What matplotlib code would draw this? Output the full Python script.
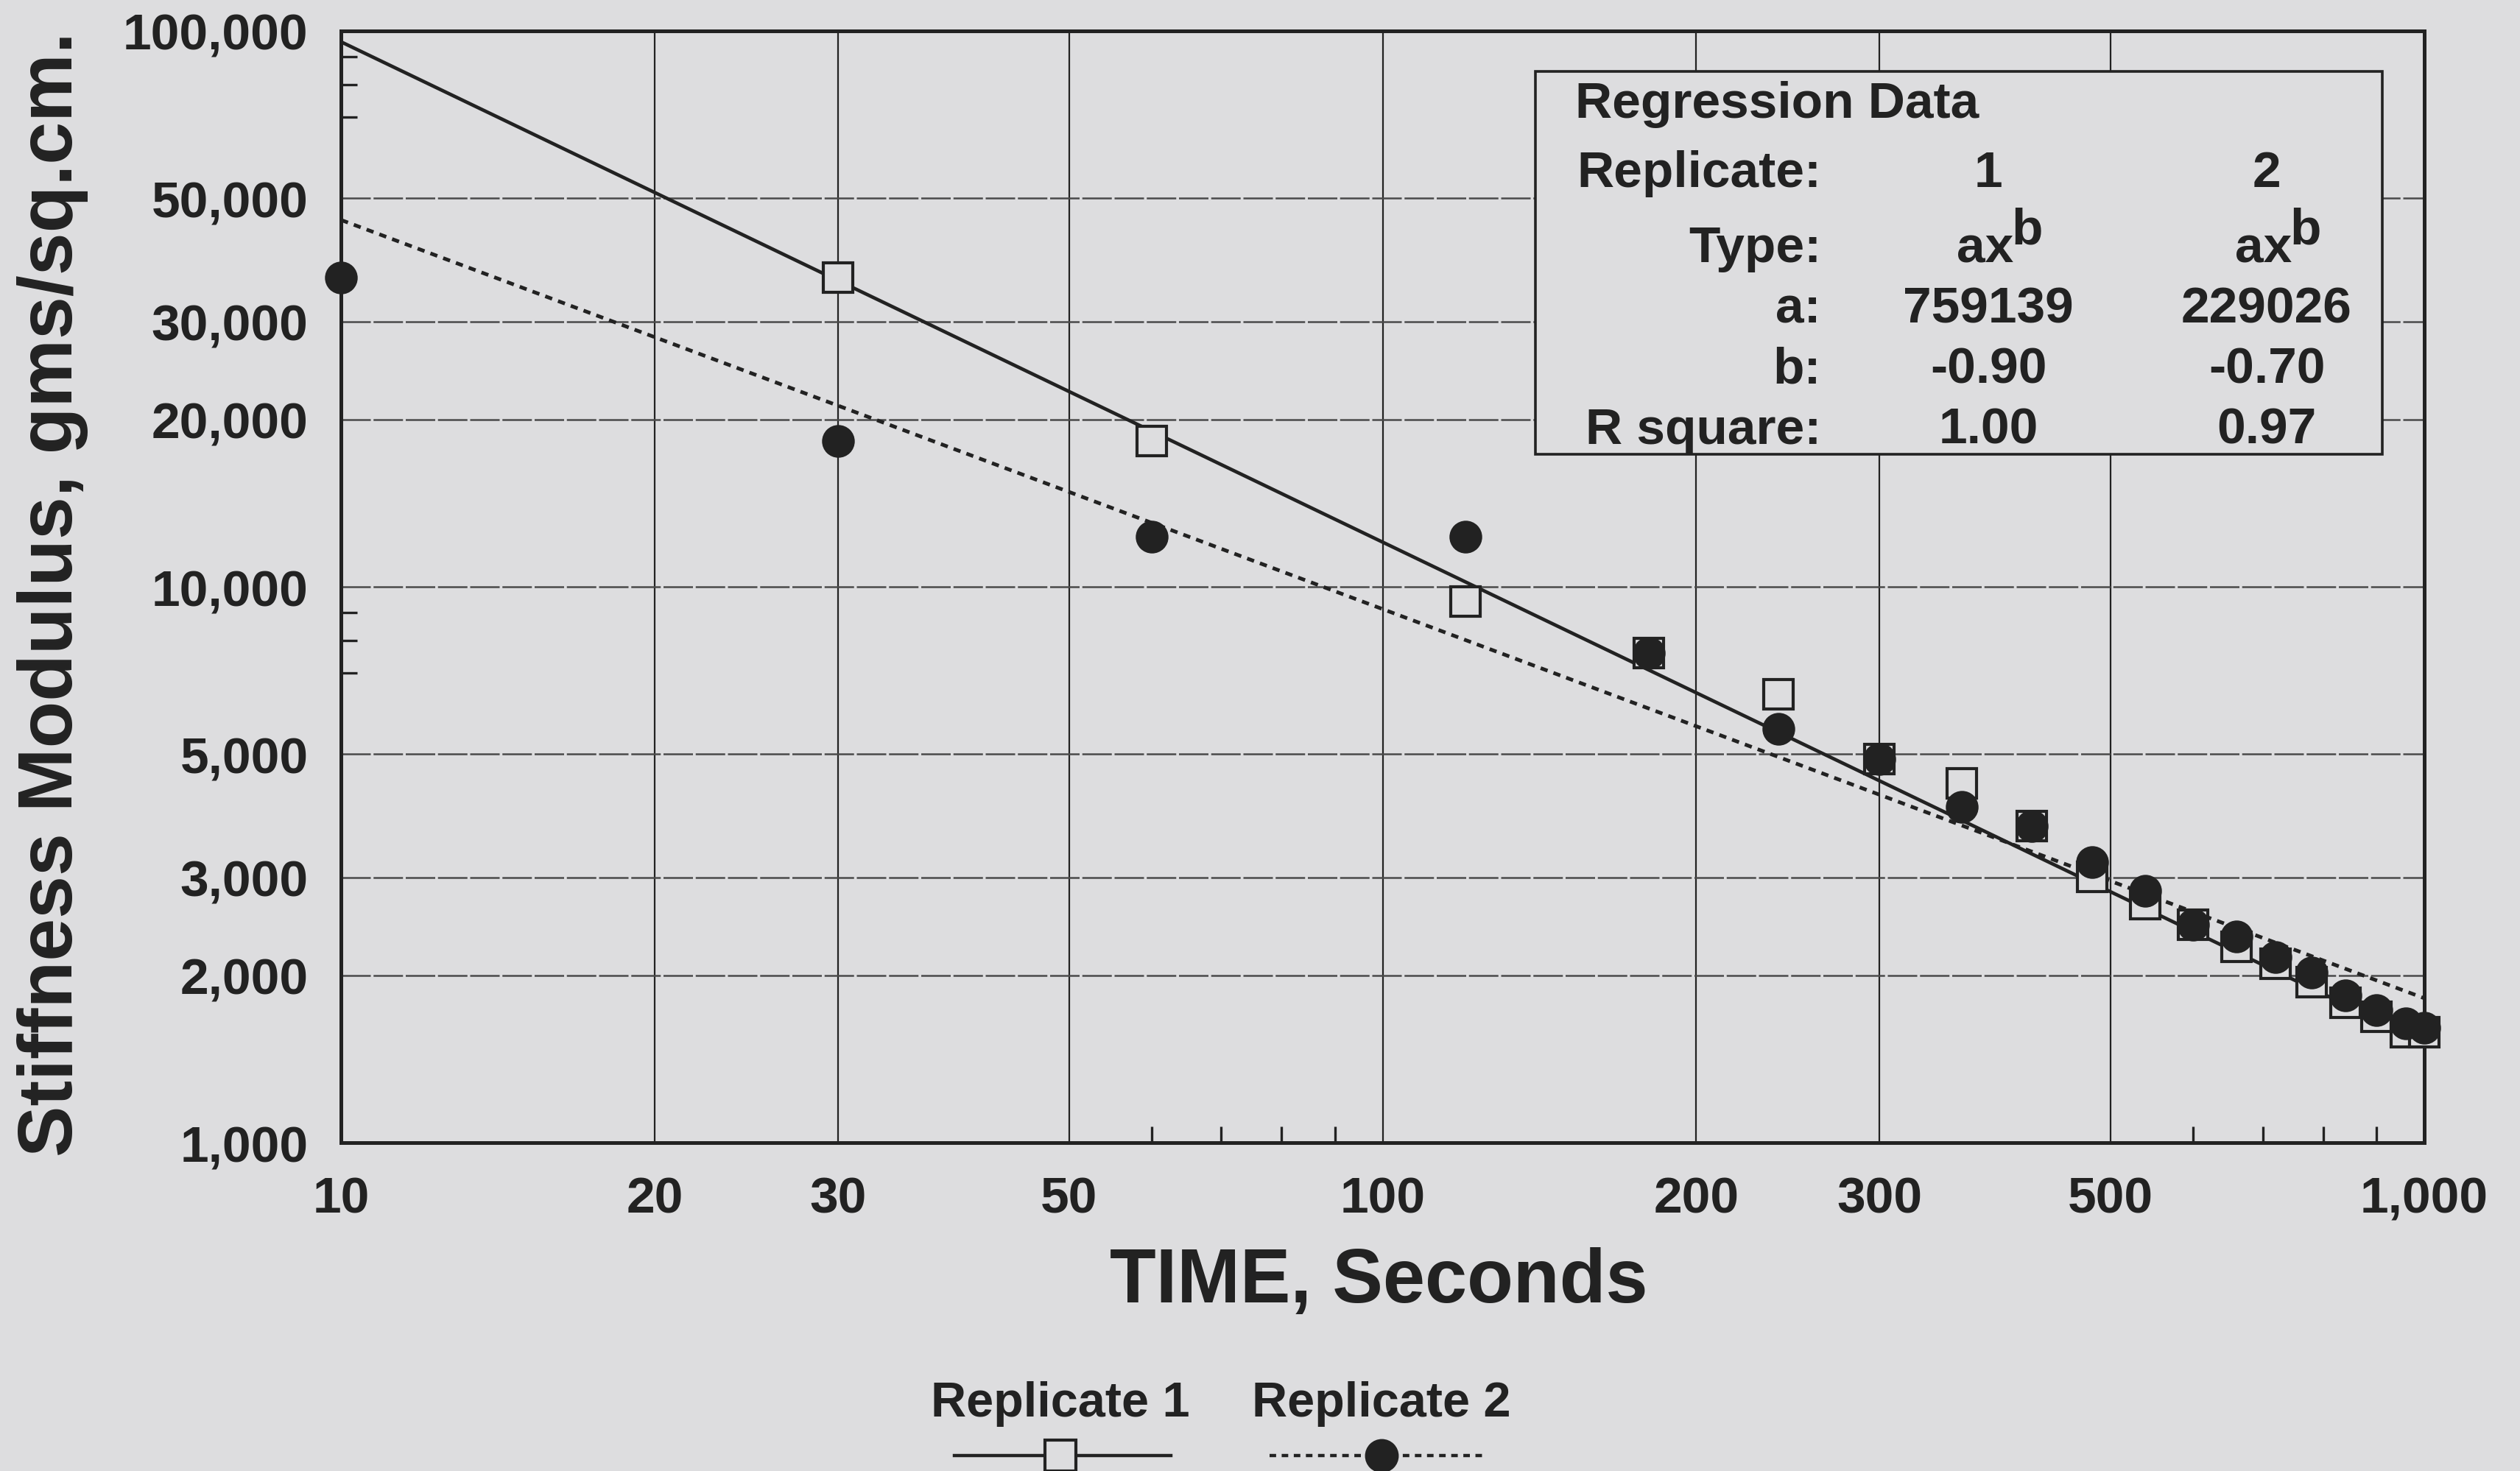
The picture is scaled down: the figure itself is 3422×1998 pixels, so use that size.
import matplotlib
matplotlib.use("Agg")
import matplotlib.pyplot as plt
from matplotlib.ticker import FixedLocator, FixedFormatter, NullFormatter
from matplotlib.patches import Rectangle
from matplotlib.lines import Line2D
import numpy as np

plt.rcParams['font.family'] = ['Liberation Sans', 'DejaVu Sans']
plt.rcParams['font.weight'] = 'bold'

# --- data ---
# Replicate 1 (open squares)
time_rep1 = [30, 60, 120, 180, 240, 300, 360, 420, 480, 540, 600, 660, 720, 780, 840, 900, 960, 1000]
stiff_rep1 = [36000, 18300, 9400, 7600, 6400, 4900, 4430, 3710, 3010, 2690, 2470, 2250, 2100, 1945, 1785, 1685, 1580, 1580]
# Replicate 2 (filled circles)
time_rep2 = [10, 30, 60, 120, 180, 240, 300, 360, 420, 480, 540, 600, 660, 720, 780, 840, 900, 960, 1000]
stiff_rep2 = [36000, 18300, 12300, 12300, 7600, 5550, 4900, 4020, 3710, 3200, 2840, 2470, 2350, 2160, 2020, 1840, 1730, 1640, 1610]

# regression y = a * x^b
reg_a = [759139, 229026]
reg_b = [-0.90, -0.70]
reg_r2 = [1.00, 0.97]
fit_range = [10, 1000]

x_ticks = [10, 20, 30, 50, 100, 200, 300, 500, 1000]
x_labels = ["10", "20", "30", "50", "100", "200", "300", "500", "1,000"]
y_ticks = [1000, 2000, 3000, 5000, 10000, 20000, 30000, 50000, 100000]
y_labels = ["1,000", "2,000", "3,000", "5,000", "10,000", "20,000", "30,000", "50,000", "100,000"]
x_minor = [60, 70, 80, 90, 600, 700, 800, 900]
y_minor = [7000, 8000, 9000, 70000, 80000, 90000]

bg = '#dddddf'
ink = '#222222'

fig = plt.figure(figsize=(17.115, 9.995), dpi=200, facecolor=bg)
ax = fig.add_axes([0.1353, 0.2231, 0.8264, 0.7554])
ax.set_facecolor(bg)
ax.set_xscale('log')
ax.set_yscale('log')
ax.set_xlim(10, 1000)
ax.set_ylim(1000, 100000)

# regression lines
fx = np.array(fit_range, dtype=float)
ax.plot(fx, reg_a[0] * fx ** reg_b[0], color=ink, lw=1.7, ls='-', zorder=2)
ax.plot(fx, reg_a[1] * fx ** reg_b[1], color=ink, lw=1.8, ls=(0, (2.0, 1.7)), zorder=2)

# data points
ax.plot(time_rep1, stiff_rep1, ls='none', marker='s', ms=14.5, mfc=bg, mec=ink, mew=1.5,
        zorder=3, clip_on=False)
ax.plot(time_rep2, stiff_rep2, ls='none', marker='o', ms=15, mfc=ink, mec=ink, mew=1,
        zorder=4, clip_on=False)

# axes, ticks, grid
ax.xaxis.set_major_locator(FixedLocator(x_ticks))
ax.xaxis.set_major_formatter(FixedFormatter(x_labels))
ax.yaxis.set_major_locator(FixedLocator(y_ticks))
ax.yaxis.set_major_formatter(FixedFormatter(y_labels))
ax.xaxis.set_minor_locator(FixedLocator(x_minor))
ax.yaxis.set_minor_locator(FixedLocator(y_minor))
ax.xaxis.set_minor_formatter(NullFormatter())
ax.yaxis.set_minor_formatter(NullFormatter())
ax.tick_params(which='major', length=0, labelsize=25, labelcolor=ink, pad=16)
ax.tick_params(which='minor', direction='in', length=8, width=1.2, color=ink)
for lab in ax.get_xticklabels() + ax.get_yticklabels():
    lab.set_fontweight('bold')

ax.set_axisbelow(True)
ax.xaxis.grid(True, which='major', color=ink, lw=0.8, ls='-')
ax.yaxis.grid(True, which='major', color='#4a4a4a', lw=0.9, ls=(0, (16, 1.5)))
for sp in ax.spines.values():
    sp.set_linewidth(1.8)
    sp.set_color(ink)

fig.text(0.547, 0.1285, "TIME, Seconds", ha='center', va='center', fontsize=37,
         fontweight='bold', color=ink)
fig.text(0.021, 0.596, "Stiffness Modulus, gms/sq.cm.", rotation=90, ha='center',
         va='center', fontsize=37.5, fontweight='bold', color=ink)

# regression data box
ax.add_patch(Rectangle((0.5733, 0.6192), 0.4066, 0.3444, transform=ax.transAxes,
                       facecolor=bg, edgecolor=ink, lw=1.3, zorder=6))
tkw = dict(transform=ax.transAxes, fontsize=25, fontweight='bold', color=ink, zorder=7,
           va='center')
col_x = [0.7908, 0.9244]
lab_x = 0.7105
ax.text(0.5925, 0.9344, "Regression Data", ha='left', **tkw)
rows = [("Replicate:", ["1", "2"], 0.8722),
        ("Type:", None, 0.8046),
        ("a:", [str(v) for v in reg_a], 0.7497),
        ("b:", [f"{v:.2f}" for v in reg_b], 0.6960),
        ("R square:", [f"{v:.2f}" for v in reg_r2], 0.6411)]
for label, vals, yy in rows:
    ax.text(lab_x, yy, label, ha='right', **tkw)
    if vals is None:
        for cx in col_x:
            ax.text(cx + 0.012, yy, "ax", ha='right', **tkw)
            ax.annotate("b", xy=(cx + 0.012, yy), xycoords=ax.transAxes,
                        xytext=(-1, 9), textcoords='offset points', ha='left',
                        va='center', fontsize=25, fontweight='bold', color=ink,
                        zorder=7)
    else:
        for cx, v in zip(col_x, vals):
            ax.text(cx, yy, v, ha='center', **tkw)

# legend below the plot
leg_specs = [("Replicate 1", 0.4207, 0.3786, 0.4645, '-', 's', bg),
             ("Replicate 2", 0.548, 0.5037, 0.5901, (0, (2.0, 1.7)), 'o', ink)]
for name, tx, x0, x1, ls, mk, fc in leg_specs:
    fig.text(tx, 0.046, name, ha='center', va='center', fontsize=24,
             fontweight='bold', color=ink)
    fig.add_artist(Line2D([x0, x1], [0.0105, 0.0105], color=ink, lw=1.6, ls=ls,
                          transform=fig.transFigure))
    fig.add_artist(Line2D([tx], [0.0105], ls='none', marker=mk, ms=15, mfc=fc,
                          mec=ink, mew=1.5, transform=fig.transFigure))

fig.savefig("out.png", dpi=200, facecolor=bg)
